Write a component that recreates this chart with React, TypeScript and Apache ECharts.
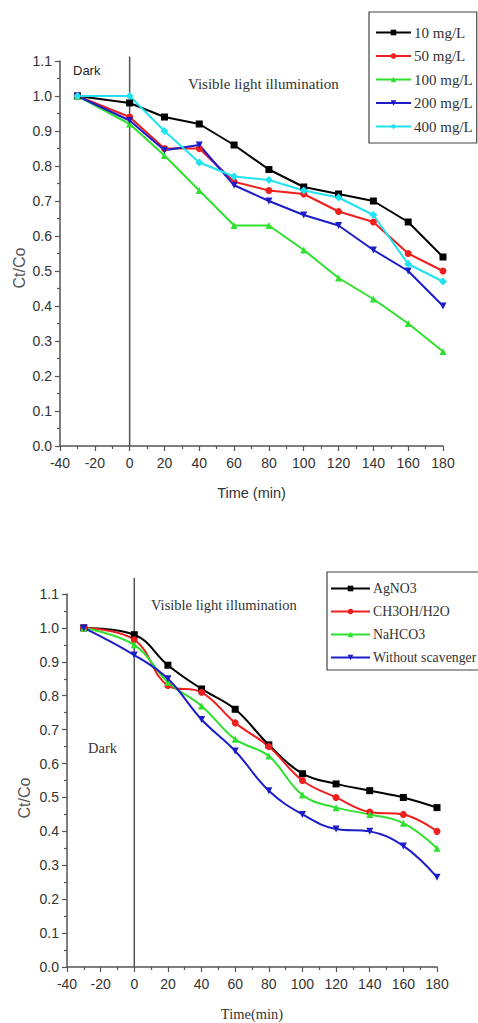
import React, { useEffect, useRef } from "react";
import * as echarts from "echarts";

const timeMin = [-30, 0, 20, 40, 60, 80, 100, 120, 140, 160, 180];

const concNames = ["10 mg/L", "50 mg/L", "100 mg/L", "200 mg/L", "400 mg/L"];
const c10 = [1.0, 0.98, 0.94, 0.92, 0.86, 0.79, 0.74, 0.72, 0.7, 0.64, 0.54];
const c50 = [1.0, 0.94, 0.85, 0.85, 0.755, 0.73, 0.72, 0.67, 0.64, 0.55, 0.5];
const c100 = [1.0, 0.92, 0.83, 0.73, 0.63, 0.63, 0.56, 0.48, 0.42, 0.35, 0.27];
const c200 = [1.0, 0.93, 0.845, 0.86, 0.745, 0.7, 0.66, 0.63, 0.56, 0.5, 0.4];
const c400 = [1.0, 1.0, 0.9, 0.81, 0.77, 0.76, 0.73, 0.71, 0.66, 0.52, 0.47];

const scavNames = ["AgNO3", "CH3OH/H2O", "NaHCO3", "Without scavenger"];
const sAg = [1.0, 0.98, 0.89, 0.82, 0.76, 0.655, 0.57, 0.54, 0.52, 0.5, 0.47];
const sMe = [1.0, 0.965, 0.83, 0.81, 0.72, 0.65, 0.55, 0.5, 0.457, 0.45, 0.4];
const sNa = [1.0, 0.95, 0.84, 0.77, 0.672, 0.622, 0.507, 0.47, 0.45, 0.424, 0.35];
const sWo = [1.0, 0.92, 0.85, 0.73, 0.637, 0.52, 0.45, 0.407, 0.4, 0.357, 0.265];

const xMin = -40;
const xMax = 180;
const xStep = 20;
const yMin = 0;
const yMax = 1.1;
const yStep = 0.1;
const darkEdge = [0, 0];
const darkTop = [1.113, 1.147];

const colors = ["#000000", "#ee1f1f", "#2fe02f", "#1c1cc8", "#1fe3f2"];
const symbols = ["rect", "circle", "triangle", "triangle", "diamond"];
const rotates = [0, 0, 0, 180, 0];

const SANS = "'Liberation Sans Narrow', 'Liberation Sans', Arial, sans-serif";
const SANS_W = "'Liberation Sans', Arial, sans-serif";
const SERIF = "'Liberation Serif', 'Times New Roman', serif";

function pairs(vals: number[]) {
  return timeMin.map((t, i) => [t, vals[i]]);
}

function makeX(gridIndex: number, name: string, nameFont: string) {
  return {
    type: "value",
    gridIndex,
    min: xMin,
    max: xMax,
    interval: xStep,
    name,
    nameLocation: "middle",
    nameGap: 39,
    nameTextStyle: { fontFamily: nameFont, fontSize: 14.5, color: "#333" },
    axisLine: { show: true, onZero: false, lineStyle: { color: "#555", width: 1.5 } },
    axisTick: { show: true, length: 5, lineStyle: { color: "#555", width: 1.2 } },
    minorTick: { show: true, splitNumber: 2, length: 3, lineStyle: { color: "#555", width: 1.2 } },
    splitLine: { show: false },
    axisLabel: { margin: 10, fontFamily: SANS, fontSize: 14, color: "#333" },
  };
}

function makeY(gridIndex: number) {
  return {
    type: "value",
    gridIndex,
    min: yMin,
    max: yMax,
    interval: yStep,
    axisLine: { show: true, onZero: false, lineStyle: { color: "#555", width: 1.5 } },
    axisTick: { show: true, length: 5, lineStyle: { color: "#555", width: 1.2 } },
    minorTick: { show: true, splitNumber: 2, length: 3, lineStyle: { color: "#555", width: 1.2 } },
    splitLine: { show: false },
    axisLabel: {
      margin: 8,
      fontFamily: SANS,
      fontSize: 14,
      color: "#333",
      formatter: (v: number) => v.toFixed(1),
    },
  };
}

export default function App() {
  const ref = useRef<HTMLDivElement>(null);

  useEffect(() => {
    if (!ref.current) return;
    const chart = echarts.init(ref.current, undefined, { renderer: "svg" });

    const topVals = [c10, c50, c100, c200, c400];
    const botVals = [sAg, sMe, sNa, sWo];

    const topSeries = topVals.map((vals, i) => ({
      type: "line",
      name: concNames[i],
      xAxisIndex: 0,
      yAxisIndex: 0,
      data: pairs(vals),
      symbol: symbols[i],
      symbolRotate: rotates[i],
      symbolSize: i === 4 ? 8 : 7,
      lineStyle: { color: colors[i], width: 2 },
      itemStyle: { color: colors[i] },
      z: 3,
    }));

    const botSeries = botVals.map((vals, i) => ({
      type: "line",
      name: scavNames[i],
      xAxisIndex: 1,
      yAxisIndex: 1,
      data: pairs(vals),
      smooth: 0.4,
      symbol: symbols[i],
      symbolRotate: rotates[i],
      symbolSize: 7,
      lineStyle: { color: colors[i], width: 2 },
      itemStyle: { color: colors[i] },
      z: 3,
    }));

    const divider = (k: number) => ({
      type: "line",
      name: "divider" + k,
      xAxisIndex: k,
      yAxisIndex: k,
      data: [
        [darkEdge[k], 0],
        [darkEdge[k], darkTop[k]],
      ],
      symbol: "none",
      clip: false,
      silent: true,
      lineStyle: { color: "#555", width: 1.5 },
      z: 2,
    });

    chart.setOption({
      animation: false,
      backgroundColor: "#ffffff",
      grid: [
        { left: 60, right: 35, top: 61, bottom: 577 },
        { left: 67, right: 41, top: 594, bottom: 56 },
      ],
      xAxis: [makeX(0, "Time (min)", SANS_W), makeX(1, "Time(min)", SERIF)],
      yAxis: [makeY(0), makeY(1)],
      legend: [
        {
          data: concNames,
          orient: "vertical",
          left: 369,
          top: 12,
          padding: [13, 4, 9, 6],
          itemWidth: 35,
          itemHeight: 7,
          itemGap: 8.5,
          backgroundColor: "#fff",
          borderColor: "#444",
          borderWidth: 1.2,
          borderRadius: 0,
          textStyle: { fontFamily: SERIF, fontSize: 15, lineHeight: 15, color: "#333", padding: [0, 0, 0, -2] },
        },
        {
          data: scavNames,
          orient: "vertical",
          left: 327,
          top: 572,
          padding: [9, 4, 5, 3],
          itemWidth: 39,
          itemHeight: 7,
          itemGap: 8,
          backgroundColor: "#fff",
          borderColor: "#444",
          borderWidth: 1.2,
          borderRadius: 0,
          textStyle: { fontFamily: SERIF, fontSize: 13.8, lineHeight: 15, color: "#333", padding: [0, 0, 0, -2] },
        },
      ],
      graphic: [
        {
          type: "text",
          x: 73,
          y: 70,
          style: { text: "Dark", font: `13px ${SANS_W}`, fill: "#222", verticalAlign: "middle" },
        },
        {
          type: "text",
          x: 188,
          y: 84,
          style: {
            text: "Visible light illumination",
            font: `15px ${SERIF}`,
            fill: "#333",
            verticalAlign: "middle",
          },
        },
        {
          type: "text",
          x: 19,
          y: 268,
          rotation: Math.PI / 2,
          style: {
            text: "Ct/Co",
            font: `16px ${SANS_W}`,
            fill: "#555",
            align: "center",
            verticalAlign: "middle",
          },
        },
        {
          type: "text",
          x: 151,
          y: 605,
          style: {
            text: "Visible light illumination",
            font: `14.5px ${SERIF}`,
            fill: "#333",
            verticalAlign: "middle",
          },
        },
        {
          type: "text",
          x: 88,
          y: 748,
          style: { text: "Dark", font: `14.5px ${SERIF}`, fill: "#333", verticalAlign: "middle" },
        },
        {
          type: "text",
          x: 24,
          y: 798,
          rotation: Math.PI / 2,
          style: {
            text: "Ct/Co",
            font: `16px ${SANS_W}`,
            fill: "#555",
            align: "center",
            verticalAlign: "middle",
          },
        },
      ],
      series: [divider(0), divider(1), ...topSeries, ...botSeries],
    });

    return () => {
      chart.dispose();
    };
  }, []);

  return (
    <div
      ref={ref}
      style={{ position: "absolute", left: 0, top: 0, width: 478, height: 1023, background: "#fff" }}
    />
  );
}
